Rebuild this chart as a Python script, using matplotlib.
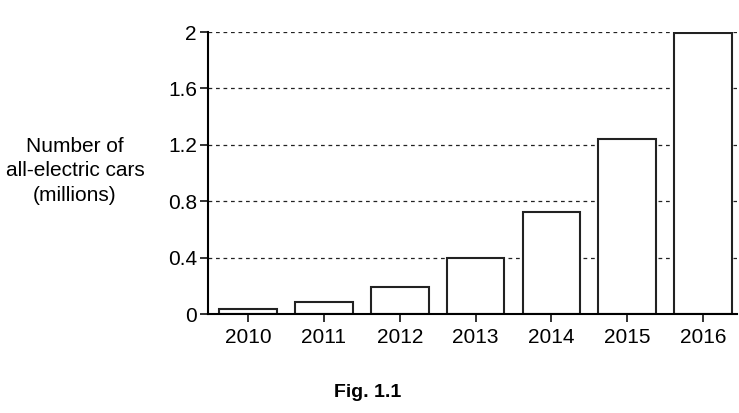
import matplotlib
matplotlib.use('Agg')
import matplotlib.pyplot as plt
import numpy as np

years = ['2010', '2011', '2012', '2013', '2014', '2015', '2016']
cars = [0.035, 0.085, 0.19, 0.40, 0.72, 1.24, 1.99]
yticks = [0, 0.4, 0.8, 1.2, 1.6, 2]
ytick_labels = ['0', '0.4', '0.8', '1.2', '1.6', '2']

plt.rcParams['font.family'] = ['Liberation Sans', 'DejaVu Sans']

fig = plt.figure(figsize=(7.39, 4.13), dpi=100)
ax = fig.add_axes([0.2815, 0.2397, 0.7158, 0.6828])

x = np.arange(len(years))
for yv in yticks[1:]:
    ax.axhline(yv, color='#222222', lw=0.9, ls=(0, (3, 3)), zorder=1)
ax.bar(x, cars, width=0.76, color='white', edgecolor='#222222', lw=1.5, zorder=2)

ax.set_xlim(-0.53, 6.45)
ax.set_ylim(0, 2)
ax.set_xticks(x)
ax.set_xticklabels(years, fontsize=15)
ax.set_yticks(yticks)
ax.set_yticklabels(ytick_labels, fontsize=15)
ax.spines['top'].set_visible(False)
ax.spines['right'].set_visible(False)
ax.spines['left'].set_linewidth(1.5)
ax.spines['bottom'].set_linewidth(1.5)
ax.tick_params(axis='y', length=6, width=1.3, color='#222222', pad=2)
ax.tick_params(axis='x', length=6, width=1.3, color='#222222', pad=4)

fig.text(75 / 739, 1 - 171 / 413, 'Number of\nall-electric cars\n(millions)',
         ha='center', va='center', fontsize=15, linespacing=1.35)
fig.text(368 / 739, 1 - 397 / 413, 'Fig. 1.1', ha='center', va='baseline',
         fontsize=14, fontweight='bold')

fig.savefig('out.png', dpi=100)
